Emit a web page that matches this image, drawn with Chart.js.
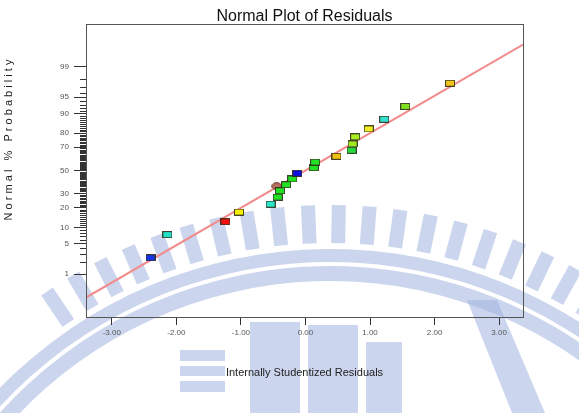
<!DOCTYPE html>
<html>
<head>
<meta charset="utf-8">
<script src="https://cdn.jsdelivr.net/npm/chart.js@4.4.1/dist/chart.umd.min.js"></script>
<style>
html, body { margin: 0; padding: 0; background: #fff; }
#wrap { width: 579px; height: 413px; }
</style>
</head>
<body>
<div id="wrap"><canvas id="residualChart"></canvas></div>
<script>
// residuals, in rank order
var residuals = [-2.40, -2.14, -1.24, -1.03, -0.54, -0.43, -0.395, -0.30, -0.204, -0.127,
                 0.13, 0.15, 0.48, 0.715, 0.73, 0.77, 0.98, 1.22, 1.545, 2.24];
var probabilities = [2.5, 7.5, 12.5, 17.5, 22.5, 27.5, 32.5, 37.5, 42.5, 47.5,
                     52.5, 57.5, 62.5, 67.5, 72.5, 77.5, 82.5, 87.5, 92.5, 97.5];
var pointColors = ['#1434e6', '#22e0c4', '#f01010', '#f4f000', '#28e6c8', '#22e022', '#22e022', '#22e022', '#22e022', '#1010e0',
                   '#22e022', '#22e022', '#f0c010', '#22dc3c', '#a0ea20', '#a8ee20', '#eeee20', '#30e0d0', '#80e020', '#f0c418'];
// the one round marker
var markedResidual = [-0.446];
var markedProb = [36.2];
// fitted normal line: z = slope * residual
var lineResidual = [-3.40, 3.37];
var lineSlope = 0.839;

var xTickValues = [-3, -2, -1, 0, 1, 2, 3];
var yTickLabels = [1, 5, 10, 20, 30, 50, 70, 80, 90, 95, 99];

var fontFam = '"Liberation Sans", Arial, sans-serif';

// inverse normal cdf (Acklam)
function probit(p) {
	var a = [-3.969683028665376e+01, 2.209460984245205e+02, -2.759285104469687e+02, 1.383577518672690e+02, -3.066479806614716e+01, 2.506628277459239e+00];
	var b = [-5.447609879822406e+01, 1.615858368580409e+02, -1.556989798598866e+02, 6.680131188771972e+01, -1.328068155288572e+01];
	var c = [-7.784894002430293e-03, -3.223964580411365e-01, -2.400758277161838e+00, -2.549732539343734e+00, 4.374664141464968e+00, 2.938163982698783e+00];
	var d = [7.784695709041462e-03, 3.224671290700398e-01, 2.445134137142996e+00, 3.754408661907416e+00];
	var q, r;
	if (p < 0.02425) {
		q = Math.sqrt(-2 * Math.log(p));
		return (((((c[0]*q+c[1])*q+c[2])*q+c[3])*q+c[4])*q+c[5]) / ((((d[0]*q+d[1])*q+d[2])*q+d[3])*q+1);
	}
	if (p > 1 - 0.02425) {
		q = Math.sqrt(-2 * Math.log(1 - p));
		return -(((((c[0]*q+c[1])*q+c[2])*q+c[3])*q+c[4])*q+c[5]) / ((((d[0]*q+d[1])*q+d[2])*q+d[3])*q+1);
	}
	q = p - 0.5; r = q * q;
	return (((((a[0]*r+a[1])*r+a[2])*r+a[3])*r+a[4])*r+a[5])*q / (((((b[0]*r+b[1])*r+b[2])*r+b[3])*r+b[4])*r+1);
}

function rectMarker(fill, border) {
	var c = document.createElement('canvas');
	c.width = 10; c.height = 7;
	var g = c.getContext('2d');
	g.fillStyle = fill;
	g.fillRect(0.5, 0.5, 9, 6);
	g.strokeStyle = border;
	g.lineWidth = 1;
	g.strokeRect(0.5, 0.5, 9, 6);
	return c;
}
function ovalMarker(fill, border) {
	var c = document.createElement('canvas');
	c.width = 11; c.height = 8;
	var g = c.getContext('2d');
	g.beginPath();
	g.ellipse(5.5, 4, 4.8, 3.4, 0, 0, Math.PI * 2);
	g.fillStyle = fill; g.fill();
	g.strokeStyle = border; g.lineWidth = 1; g.stroke();
	return c;
}

var pts = residuals.map(function (r, i) { return { x: r, y: probit(probabilities[i] / 100) }; });
var markers = pointColors.map(function (c) { return rectMarker(c, 'rgba(40,40,20,0.85)'); });
var markedPts = markedResidual.map(function (r, i) { return { x: r, y: probit(markedProb[i] / 100) }; });
var linePts = lineResidual.map(function (r) { return { x: r, y: lineSlope * r }; });

// faint school logo behind the plot (rough sketch only)
function drawWatermark(ctx) {
	ctx.save();
	ctx.fillStyle = 'rgba(160,178,222,0.55)';
	var cx = 330, cy = 711;
	for (var a = 236; a <= 304; a += 3.5) {
		ctx.save();
		ctx.translate(cx, cy);
		ctx.rotate(a * Math.PI / 180 + Math.PI / 2);
		ctx.fillRect(-7, -506, 14, 38);
		ctx.restore();
	}
	ctx.beginPath();
	ctx.arc(cx, cy, 462, Math.PI * 1.2, Math.PI * 1.8);
	ctx.arc(cx, cy, 449, Math.PI * 1.8, Math.PI * 1.2, true);
	ctx.closePath(); ctx.fill();
	ctx.beginPath();
	ctx.arc(cx, cy, 445, Math.PI * 1.2, Math.PI * 1.8);
	ctx.arc(cx, cy, 430, Math.PI * 1.8, Math.PI * 1.2, true);
	ctx.closePath(); ctx.fill();
	// letter blocks
	ctx.fillRect(180, 350, 45, 11);
	ctx.fillRect(180, 366, 45, 10);
	ctx.fillRect(180, 381, 45, 11);
	ctx.fillRect(250, 322, 50, 91);
	ctx.fillRect(308, 325, 50, 88);
	ctx.fillRect(366, 342, 36, 71);
	ctx.beginPath();
	ctx.moveTo(467, 300); ctx.lineTo(497, 300); ctx.lineTo(545, 413); ctx.lineTo(512, 413);
	ctx.closePath(); ctx.fill();
	ctx.restore();
}

var boxAndLabels = {
	id: 'boxAndLabels',
	beforeDraw: function (chart) {
		drawWatermark(chart.ctx);
	},
	afterDraw: function (chart) {
		var ctx = chart.ctx, ca = chart.chartArea, ys = chart.scales.y;
		ctx.save();
		// minor probability ticks
		ctx.strokeStyle = '#333';
		ctx.lineWidth = 1;
		for (var p = 1; p <= 99; p++) {
			if (yTickLabels.indexOf(p) >= 0) continue;
			var py = Math.round(ys.getPixelForValue(probit(p / 100))) + 0.5;
			ctx.beginPath();
			ctx.moveTo(ca.left - 6, py);
			ctx.lineTo(ca.left, py);
			ctx.stroke();
		}
		// frame
		ctx.strokeStyle = '#555';
		ctx.strokeRect(ca.left + 0.5, ca.top + 0.5, ca.right - ca.left, ca.bottom - ca.top);
		// title
		ctx.fillStyle = '#111';
		ctx.font = '16px ' + fontFam;
		ctx.textAlign = 'center';
		ctx.textBaseline = 'alphabetic';
		ctx.fillText('Normal Plot of Residuals', (ca.left + ca.right) / 2, 21);
		// y title
		ctx.translate(12, 140);
		ctx.rotate(-Math.PI / 2);
		ctx.font = '11px ' + fontFam;
		ctx.fillStyle = '#222';
		ctx.fillText('N o r m a l   %   P r o b a b i l i t y', 0, 0);
		ctx.restore();
	}
};

new Chart(document.getElementById('residualChart'), {
	type: 'scatter',
	data: {
		datasets: [{
			type: 'line',
			data: linePts,
			borderColor: '#f28c8c',
			borderWidth: 2,
			pointRadius: 0,
			order: 3
		}, {
			data: markedPts,
			pointStyle: ovalMarker('#b8705e', 'rgba(90,40,30,0.9)'),
			pointRadius: 5,
			order: 2
		}, {
			data: pts,
			pointStyle: markers,
			pointRadius: 5,
			order: 1
		}]
	},
	options: {
		responsive: true,
		maintainAspectRatio: false,
		animation: false,
		layout: { padding: { top: 24, right: 56, left: 0, bottom: 0 } },
		plugins: {
			legend: { display: false },
			tooltip: { enabled: false }
		},
		scales: {
			x: {
				type: 'linear',
				min: -3.40,
				max: 3.37,
				afterFit: function (s) { s.height = 96; },
				afterBuildTicks: function (s) { s.ticks = xTickValues.map(function (v) { return { value: v }; }); },
				grid: { drawOnChartArea: false, tickLength: 8, tickColor: '#333' },
				border: { display: false },
				ticks: {
					padding: 3,
					color: '#555',
					font: { family: fontFam, size: 8 },
					maxRotation: 0,
					callback: function (v) { return v.toFixed(2); }
				},
				title: {
					display: true,
					text: 'Internally Studentized Residuals',
					color: '#222',
					font: { family: fontFam, size: 11 },
					padding: { top: 0, bottom: 33 }
				}
			},
			y: {
				type: 'linear',
				min: -3.29,
				max: 3.29,
				afterFit: function (s) { s.width = 86; },
				afterBuildTicks: function (s) { s.ticks = yTickLabels.map(function (p) { return { value: probit(p / 100) }; }); },
				grid: { drawOnChartArea: false, tickLength: 12, tickColor: '#333' },
				border: { display: false },
				ticks: {
					padding: 5,
					color: '#555',
					font: { family: fontFam, size: 8 },
					callback: function (v, i) { return String(yTickLabels[i]); }
				}
			}
		}
	},
	plugins: [boxAndLabels]
});
</script>
</body>
</html>
